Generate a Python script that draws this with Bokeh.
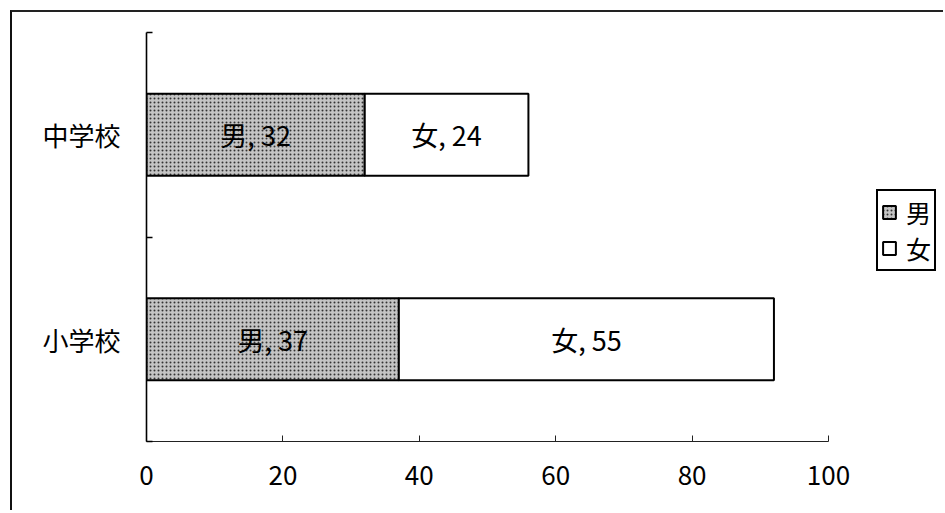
from bokeh.plotting import figure
from bokeh.models import Range1d, FixedTicker, Legend, LegendItem, ColumnDataSource
from bokeh.embed import file_html
from bokeh.resources import INLINE
from bokeh.core.properties import value

# Survey counts by school level, split by sex
categories = ["小学校", "中学校"]
male = [37, 32]
female = [55, 24]
series_names = ["男", "女"]
x_ticks = [0, 20, 40, 60, 80, 100]

FONT = "Noto Sans CJK JP"

ypos = [i + 0.5 for i in range(len(categories))]
total = [m + f for m, f in zip(male, female)]

src = ColumnDataSource(dict(
    y=ypos,
    zero=[0] * len(categories),
    male=male,
    total=total,
    male_mid=[m / 2 for m in male],
    female_mid=[m + f / 2 for m, f in zip(male, female)],
    male_text=[f"{series_names[0]}, {m}" for m in male],
    female_text=[f"{series_names[1]}, {f}" for f in female],
))

# plot frame: 682 px for the 0-100 axis, plus room on the right for the legend
AXIS_PX = 682
FRAME_PX = 797
x_end = x_ticks[-1] * FRAME_PX / AXIS_PX

p = figure(
    frame_width=FRAME_PX, frame_height=409,
    x_range=Range1d(0, x_end), y_range=Range1d(0, len(categories)),
    output_backend="svg", toolbar_location=None,
    min_border_left=134, min_border_right=0,
    min_border_top=20, min_border_bottom=69,
)
p.styles = {
    "margin-left": "10px", "margin-top": "10px",
    "border-left": "2px solid #111", "border-top": "2px solid #222",
}
p.background_fill_color = "white"
p.border_fill_color = "white"
p.outline_line_color = None
p.xgrid.visible = False
p.ygrid.visible = False

male_r = p.hbar(y="y", left="zero", right="male", height=0.4, source=src,
                fill_color="#c4c4c4", hatch_pattern="dot", hatch_color="#333333",
                hatch_scale=4, hatch_weight=1.3,
                line_color="black", line_width=2)
female_r = p.hbar(y="y", left="male", right="total", height=0.4, source=src,
                  fill_color="white", line_color="black", line_width=2)

for xcol, tcol in (("male_mid", "male_text"), ("female_mid", "female_text")):
    p.text(x=xcol, y="y", text=tcol, source=src,
           text_align="center", text_baseline="middle",
           text_font=value(FONT), text_font_size="27px", text_color="black")

# x axis, drawn only over 0-100
xa = p.xaxis[0]
xa.ticker = FixedTicker(ticks=x_ticks)
xa.bounds = (x_ticks[0], x_ticks[-1])
xa.axis_line_color = "#222"
xa.axis_line_width = 1.2
xa.major_tick_in = 6
xa.major_tick_out = 0
xa.major_tick_line_color = "#222"
xa.minor_tick_line_color = None
xa.major_label_standoff = 24
xa.major_label_text_font = FONT
xa.major_label_text_font_size = "26px"
xa.major_label_text_color = "black"

# y axis: category names at band centres, ticks on band boundaries
ya = p.yaxis[0]
ya.ticker = FixedTicker(ticks=ypos, minor_ticks=list(range(len(categories) + 1)))
ya.major_label_overrides = {y: c for y, c in zip(ypos, categories)}
ya.axis_line_color = "black"
ya.axis_line_width = 1.6
ya.major_tick_line_color = None
ya.major_tick_in = 0
ya.major_tick_out = 0
ya.minor_tick_in = 6
ya.minor_tick_out = 0
ya.minor_tick_line_color = "black"
ya.minor_tick_line_width = 1.5
ya.major_label_standoff = 26
ya.major_label_text_font = FONT
ya.major_label_text_font_size = "26px"
ya.major_label_text_color = "black"

legend = Legend(
    items=[LegendItem(label=series_names[0], renderers=[male_r]),
           LegendItem(label=series_names[1], renderers=[female_r])],
    location=(730, 170),
    label_text_font=FONT, label_text_font_size="25px", label_text_color="black",
    glyph_width=16, glyph_height=16, label_height=28, label_standoff=9,
    spacing=0, padding=3, margin=0,
    border_line_color="black", border_line_width=2, border_line_alpha=1,
    background_fill_color="white", background_fill_alpha=1,
)
p.add_layout(legend)

open("out.html", "w").write(file_html(p, INLINE))
